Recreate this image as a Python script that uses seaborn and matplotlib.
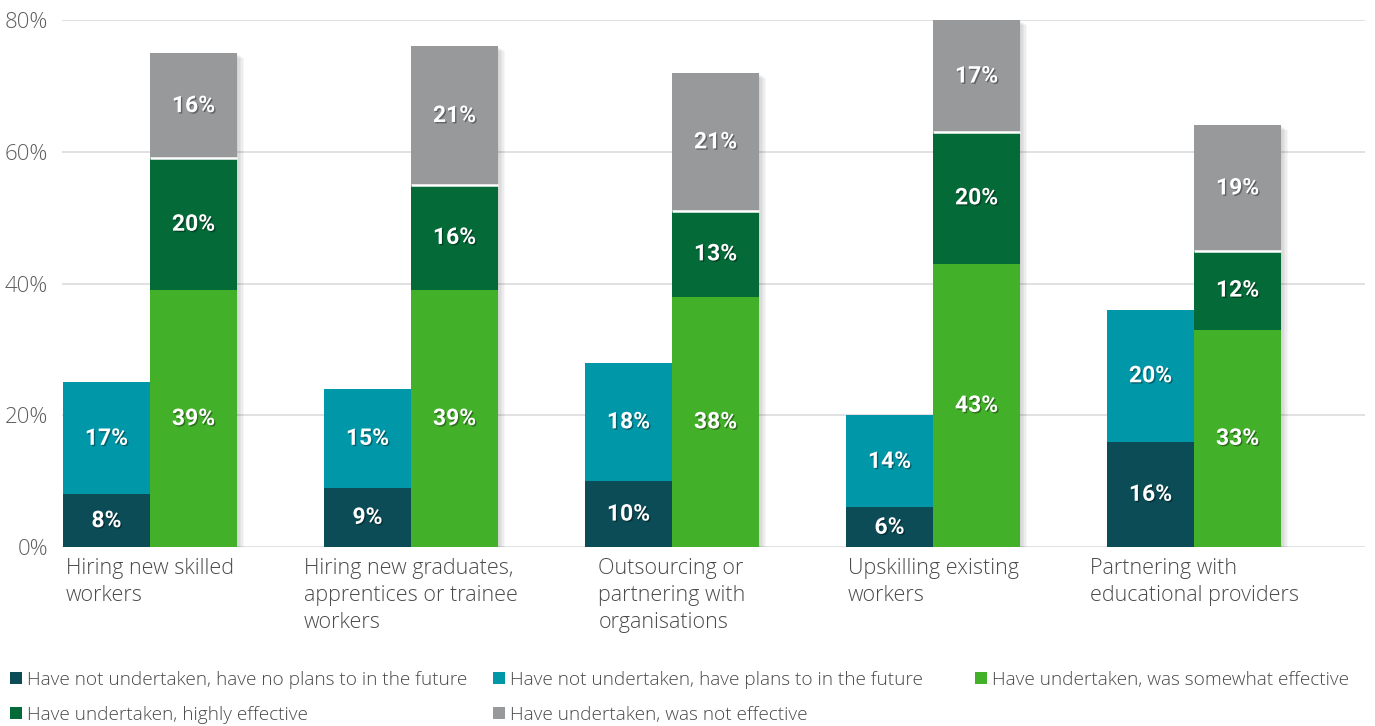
import matplotlib
matplotlib.use("Agg")
import matplotlib.pyplot as plt
import matplotlib.patheffects as pe
from matplotlib.patches import Patch
import numpy as np
import pandas as pd
import seaborn as sns

# ---- data -------------------------------------------------------------
categories = [
    "Hiring new skilled\nworkers",
    "Hiring new graduates,\napprentices or trainee\nworkers",
    "Outsourcing or\npartnering with\norganisations",
    "Upskilling existing\nworkers",
    "Partnering with\neducational providers",
]

no_plans = [8, 9, 10, 6, 16]          # Have not undertaken, no plans
plans = [17, 15, 18, 14, 20]          # Have not undertaken, plans
somewhat = [39, 39, 38, 43, 33]       # Undertaken, somewhat effective
highly = [20, 16, 13, 20, 12]         # Undertaken, highly effective
not_effective = [16, 21, 21, 17, 19]  # Undertaken, not effective

series_labels = [
    "Have not undertaken, have no plans to in the future",
    "Have not undertaken, have plans to in the future",
    "Have undertaken, was somewhat effective",
    "Have undertaken, highly effective",
    "Have undertaken, was not effective",
]
series_colors = ["#0b4c57", "#0097a9", "#43b02a", "#046a38", "#97999b"]

y_ticks = [0, 20, 40, 60, 80]
y_tick_labels = ["0%", "20%", "40%", "60%", "80%"]

# ---- figure -----------------------------------------------------------
sns.set_theme(style="white")
plt.rcParams["font.family"] = ["Open Sans", "DejaVu Sans"]

W, H = 1375, 726
fig = plt.figure(figsize=(W / 100, H / 100), dpi=100)
ax = fig.add_axes([62 / W, 1 - 547 / H, 1303 / W, 527 / H])

stacks = {
    "left": [(no_plans, series_colors[0]), (plans, series_colors[1])],
    "right": [(somewhat, series_colors[2]), (highly, series_colors[3]),
              (not_effective, series_colors[4])],
}

# soft drop shadow built from a few faint offset copies
shadow = [pe.SimplePatchShadow(offset=(o, -0.7 * o), shadow_rgbFace="black", alpha=0.035)
          for o in (1, 2, 3, 4, 5)] + [pe.Normal()]
text_shadow = [pe.SimplePatchShadow(offset=(1, -1), shadow_rgbFace="black", alpha=0.35),
               pe.Normal()]
label_font = dict(family=["Roboto", "Open Sans", "DejaVu Sans"],
                  fontweight="bold", fontsize=16.5, color="white")

segments = []  # (patch, bottom, value, layer index, side)
for side, layers in stacks.items():
    vals = np.array([v for v, _ in layers], dtype=float)
    cum = np.cumsum(vals, axis=0)
    # draw cumulative totals from the tallest layer down so they stack
    for k in reversed(range(len(layers))):
        df = pd.DataFrame({"cat": categories, "top": cum[k], "side": side})
        n0 = len(ax.patches)
        sns.barplot(data=df, x="cat", y="top", hue="side", order=categories,
                    hue_order=["left", "right"],
                    palette={"left": layers[k][1], "right": layers[k][1]},
                    dodge=True, width=0.667, saturation=1, errorbar=None,
                    legend=False, linewidth=0, ax=ax)
        new = ax.patches[n0:]
        for i, p in enumerate(new):
            if k == len(layers) - 1:
                p.set_path_effects(shadow)
            bottom = cum[k - 1][i] if k > 0 else 0.0
            segments.append((p, bottom, vals[k][i], k, side))

# white separator between the highly-effective and not-effective segments
for p, bottom, v, k, side in segments:
    if side == "right" and k == 1:
        x0 = p.get_x()
        ax.plot([x0, x0 + p.get_width()], [bottom + v, bottom + v],
                color="white", lw=1.8, solid_capstyle="butt", zorder=5)

# value labels
for p, bottom, v, k, side in segments:
    xc = p.get_x() + p.get_width() / 2
    ax.text(xc, bottom + v / 2, f"{v:.0f}%", ha="center", va="center",
            path_effects=text_shadow, zorder=6, **label_font)

# ---- axes styling ------------------------------------------------------
ax.set_ylim(0, 80)
ax.set_xlim(-0.337, 4.655)
ax.set_yticks(y_ticks)
ax.set_yticklabels(y_tick_labels, fontsize=16, color="#5f5f5f", fontweight="light")
ax.set_xticks(range(len(categories)))
ax.set_xticklabels(categories, fontsize=15.5, color="#4a4a4a", fontweight="light",
                   ha="center", multialignment="left", linespacing=1.38)
ax.set_xlabel("")
ax.set_ylabel("")
ax.tick_params(axis="both", length=0)
ax.tick_params(axis="x", pad=8)
ax.tick_params(axis="y", pad=10)
ax.yaxis.grid(True, color="#dcdcdc", lw=1.2)
ax.set_axisbelow(True)
for s in ax.spines.values():
    s.set_visible(False)

# ---- legend (three columns, two rows) ----------------------------------
legend_pos = [(10, 680), (493, 680), (975, 680), (10, 715), (493, 715)]
for (lx, ly), lab, col in zip(legend_pos, series_labels, series_colors):
    fig.legend(handles=[Patch(facecolor=col, edgecolor="none")], labels=[lab],
               loc="center left", bbox_to_anchor=(lx / W, 1 - ly / H),
               frameon=False, borderpad=0, borderaxespad=0,
               handlelength=0.62, handleheight=0.62, handletextpad=0.25,
               prop=dict(family="Open Sans", weight="light", size=13.7),
               labelcolor="#4a4a4a")

fig.savefig("out.png", dpi=100)
